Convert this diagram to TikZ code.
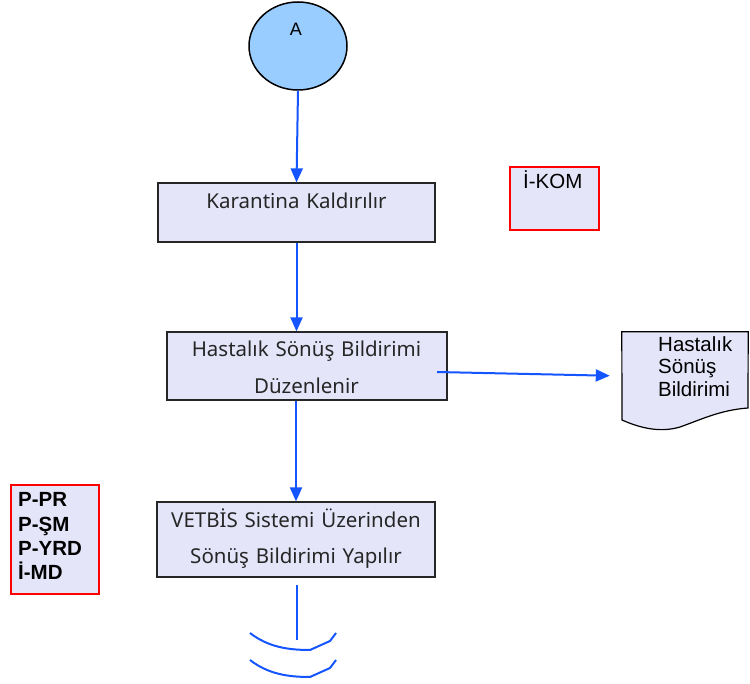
\documentclass[tikz,border=0pt]{standalone}
\usepackage{fontspec}
\setmainfont{Liberation Sans}
\newfontfamily\boxfont{Noto Sans}
\usetikzlibrary{arrows.meta,shapes.geometric}
\definecolor{lav}{RGB}{229,229,250}
\definecolor{flowblue}{RGB}{20,85,255}
\definecolor{circblue}{RGB}{153,204,255}
\begin{document}
\begin{tikzpicture}[x=1pt,y=-1pt,
  proc/.style={draw=black!85, fill=lav, line width=1.2pt, inner sep=0pt},
  redbox/.style={draw=red, fill=lav, line width=1.2pt, inner sep=0pt},
  boxtext/.style={font=\boxfont\fontsize{20.5}{36.5}\selectfont, color=black!85, align=center, text width=275pt, anchor=base, inner sep=0pt},
  sidetext/.style={font=\fontsize{20.5}{22.5}\selectfont, align=left, anchor=base west, inner sep=0pt, text width=100pt},
  flow/.style={draw=flowblue, line width=2pt, -{Triangle[length=14pt,width=12pt]}},
  brk/.style={draw=flowblue, line width=2pt}
]
\useasboundingbox (0,0) rectangle (750,684);

% start circle
\node[ellipse, draw=black, fill=circblue, line width=1.5pt, minimum width=98pt, minimum height=88pt, inner sep=0pt] (A) at (298,46) {};
\node[font=\fontsize{18}{20}\selectfont, anchor=base, inner sep=0pt] (Alabel) at (296,36) {A};

% process boxes
\node[proc, minimum width=277pt, minimum height=59pt] (b1) at (296.5,212.5) {};
\node[boxtext] (t1) at (296.5,209) {Karantina Kaldırılır};

\node[proc, minimum width=280pt, minimum height=68pt] (b2) at (307,366) {};
\node[boxtext] (t2) at (306.5,357) {Hastalık Sönüş Bildirimi\\Düzenlenir};

\node[proc, minimum width=278pt, minimum height=75pt] (b3) at (296,539.5) {};
\node[boxtext] (t3) at (296,527) {VETBİS Sistemi Üzerinden\\Sönüş Bildirimi Yapılır};

% responsibility boxes
\node[redbox, minimum width=89pt, minimum height=63pt] (ikom) at (554.5,198.5) {};
\node[sidetext] (ikomt) at (523,189) {İ-KOM};

\node[redbox, minimum width=88pt, minimum height=109pt] (resp) at (55,539.5) {};
\node[sidetext, font=\bfseries\fontsize{20.5}{24.3}\selectfont] (respt) at (18,507) {P-PR\\P-ŞM\\P-YRD\\İ-MD};

% document
\node[minimum width=126pt, minimum height=88pt, inner sep=0pt] (doc) at (685,376) {};
\draw[draw=black, fill=lav, line width=1.2pt]
  (doc.north west) -- (doc.north east) -- (748,408)
  .. controls (720,410) and (700,420) .. (680,427)
  .. controls (660,433) and (640,428) .. (622,420) -- cycle;
\node[sidetext] (doct) at (658,351.5) {Hastalık\\Sönüş\\Bildirimi};

% connectors
\draw[flow] (A.south) -- (b1.north);
\draw[flow] (b1.south) -- (b1.south |- b2.north);
\draw[flow] (b2.south -| b3.north) -- (b3.north);
\coordinate (h1) at (437,372);
\draw[flow, shorten >=12pt] (h1) -- (doc.west);

% off-page break
\coordinate (e1) at (297,585);
\coordinate (e2) at (297,640);
\draw[brk] (e1) -- (e2);
\draw[brk] (250,633) .. controls (268,647) and (288,650) .. (310,650) -- (330,641) -- (336,633);
\draw[brk] (250,660) .. controls (268,674) and (288,677) .. (310,677) -- (330,668) -- (336,660);
\end{tikzpicture}
\end{document}
